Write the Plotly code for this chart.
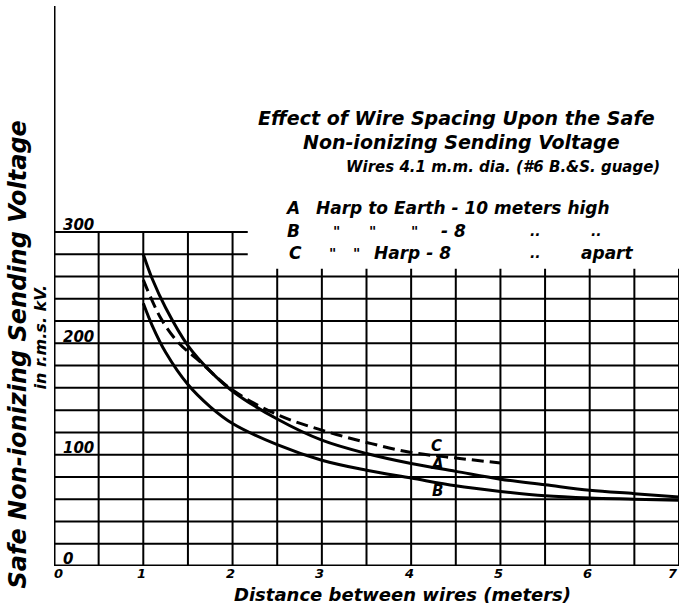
import plotly.graph_objects as go

# ---- data ----
x_A = [1.0, 1.1, 1.25, 1.5, 1.75, 2.0, 2.5, 3.0, 3.5, 4.0, 4.5, 5.0, 5.5, 6.0, 6.5, 7.0]
y_A = [280, 258, 232, 198, 175, 157, 132, 113, 101, 92, 85, 78, 73, 68, 65, 62]

x_B = [1.0, 1.1, 1.25, 1.5, 1.75, 2.0, 2.5, 3.0, 3.5, 4.0, 4.5, 5.0, 5.5, 6.0, 6.5, 7.0]
y_B = [236, 216, 192, 163, 143, 128, 109, 95, 86, 79, 72, 67, 63, 61, 60, 59]

x_C = [1.0, 1.2, 1.4, 1.6, 2.0, 2.5, 3.0, 3.5, 4.0, 4.5, 5.0]
y_C = [257, 222, 200, 186, 158, 136, 122, 111, 102, 97, 92.5]

x_ticks = [0, 1, 2, 3, 4, 5, 6, 7]
x_tick_text = ["0", "1", "2", "3", "4", "5", "6", "7"]
y_ticks = [0, 100, 200, 300]
y_tick_text = ["0", "100", "200", "300"]

curve_labels = ["C", "A", "B"]
curve_label_x = [4.28, 4.29, 4.29]
curve_label_y = [108, 92, 67]

Y_MAX = 503
FONT = "DejaVu Sans"
INK = "#000000"

fig = go.Figure()
fig.add_trace(go.Scatter(x=x_A, y=y_A, mode="lines", line=dict(color=INK, width=3, shape="spline", smoothing=1), hoverinfo="skip"))
fig.add_trace(go.Scatter(x=x_B, y=y_B, mode="lines", line=dict(color=INK, width=3, shape="spline", smoothing=1), hoverinfo="skip"))
fig.add_trace(go.Scatter(x=x_C, y=y_C, mode="lines", line=dict(color=INK, width=3, shape="spline", smoothing=1, dash="12px,6px"), hoverinfo="skip"))

shapes = []
gl = dict(color=INK, width=2)
# horizontal grid lines
for v in range(20, 261, 20):
    shapes.append(dict(type="line", xref="x", yref="y", x0=0, x1=7, y0=v, y1=v, line=gl, layer="below"))
for v in (280, 300):
    shapes.append(dict(type="line", xref="x", yref="y", x0=0, x1=2.17, y0=v, y1=v, line=gl, layer="below"))
# vertical grid lines
for i in range(1, 15):
    xv = i * 0.5
    top = 300 if xv <= 2.0 else 267
    shapes.append(dict(type="line", xref="x", yref="y", x0=xv, x1=xv, y0=0, y1=top, line=gl, layer="below"))
# axes
shapes.append(dict(type="line", xref="x", yref="y", x0=0, x1=0, y0=0, y1=Y_MAX, line=dict(color=INK, width=3)))
shapes.append(dict(type="line", xref="x", yref="y", x0=0, x1=7, y0=0, y1=0, line=dict(color=INK, width=3)))

ann = []
def T(x, y, text, size=15, xanchor="center", xref="x", yref="y", angle=0, yanchor="middle", xshift=0):
    ann.append(dict(x=x, y=y, xref=xref, yref=yref, text=text, showarrow=False,
                    xanchor=xanchor, yanchor=yanchor, textangle=angle, xshift=xshift, borderpad=0,
                    font=dict(family=FONT, size=size, color=INK, weight="bold", style="italic")))

# x tick labels (below axis, paper y)
for xv, t in zip(x_ticks, x_tick_text):
    if xv == 7:
        T(7.0, -7 / Y_MAX, t, size=13, xanchor="right", yref="paper")
    else:
        T(xv, -7 / Y_MAX, t, size=13, yref="paper", xshift=4 if xv == 0 else -2)
# y tick labels (inside the plot)
for yv, t in zip(y_ticks, y_tick_text):
    T(0.09, yv + 6, t, size=15, xanchor="left")

# curve labels
for t, xx, yy in zip(curve_labels, curve_label_x, curve_label_y):
    T(xx, yy, t, size=15)

# title block
T(4.51, 402, "Effect of Wire Spacing Upon the Safe", size=19)
T(4.56, 381, "Non-ionizing Sending Voltage", size=19)
T(5.03, 358, "Wires 4.1 m.m. dia. (#6 B.&S. guage)", size=15)

# legend block
T(2.67, 322, "A", size=17)
T(2.92, 322, "Harp to Earth - 10 meters high", size=17, xanchor="left")
T(2.68, 301, "B", size=17)
for xx in (3.16, 3.57, 4.04):
    T(xx, 301, '"', size=14)
T(4.32, 301, "- 8", size=17, xanchor="left")
T(5.39, 301, "..", size=14)
T(6.08, 301, "..", size=14)
T(2.70, 281, "C", size=17)
for xx in (3.12, 3.39):
    T(xx, 281, '"', size=14)
T(3.57, 281, "Harp - 8", size=17, xanchor="left")
T(5.39, 281, "..", size=14)
T(5.89, 281, "apart", size=17, xanchor="left")

# axis titles
T(-0.0576, 190 / Y_MAX, "Safe Non-ionizing Sending Voltage", size=24, xref="paper", yref="paper", angle=-90)
T(-0.021, 206 / Y_MAX, "in r.m.s. kV.", size=16, xref="paper", yref="paper", angle=-90)
T(3.90, -25.5 / Y_MAX, "Distance between wires (meters)", size=18, yref="paper")

fig.update_layout(
    width=679, height=606,
    margin=dict(l=54, r=0, t=6, b=40),
    paper_bgcolor="white", plot_bgcolor="white",
    showlegend=False,
    shapes=shapes, annotations=ann,
    xaxis=dict(range=[0, 7], showgrid=False, zeroline=False, showticklabels=False, showline=False, fixedrange=True),
    yaxis=dict(range=[0, Y_MAX], showgrid=False, zeroline=False, showticklabels=False, showline=False, fixedrange=True),
)
fig.write_html("out.html", config={"displayModeBar": False},
               post_script="document.body.style.margin='0';document.body.style.overflow='hidden';")
